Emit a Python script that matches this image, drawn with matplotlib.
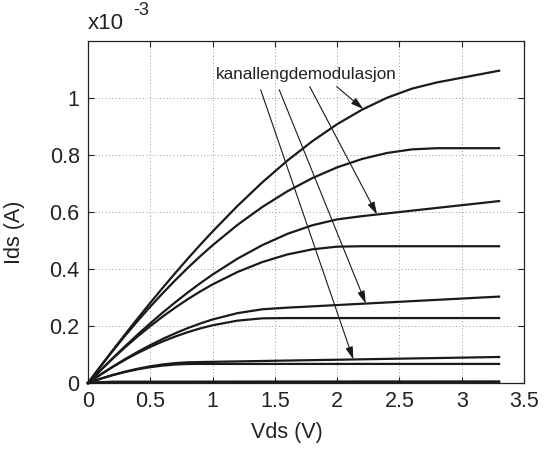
import numpy as np
import matplotlib
matplotlib.use("Agg")
import matplotlib.pyplot as plt

plt.rcParams['font.family'] = ['Liberation Sans', 'DejaVu Sans']

# Vds (V)
vds = [0, 0.1, 0.2, 0.3, 0.4, 0.5, 0.6, 0.7, 0.8, 0.9, 1.0,
       1.2, 1.4, 1.6, 1.8, 2.0, 2.2, 2.4, 2.6, 2.8, 3.0, 3.2, 3.3]

# Ids in units of 1e-3 A, uten (0) / med (1) kanallengdemodulasjon
ids_a0 = [0, 0.0578, 0.1135, 0.1671, 0.2186, 0.2681, 0.3153, 0.3605, 0.4036, 0.4446, 0.4834,
          0.5549, 0.6180, 0.6727, 0.7189, 0.7568, 0.7862, 0.8072, 0.8198, 0.824, 0.824, 0.824, 0.824]
ids_a1 = [0, 0.0584, 0.1158, 0.1721, 0.2273, 0.2815, 0.3342, 0.3857, 0.4359, 0.4846, 0.5317,
          0.6215, 0.7045, 0.7803, 0.8483, 0.9082, 0.9592, 1.0009, 1.0329, 1.0547, 1.0712, 1.0877, 1.0959]
ids_b0 = [0, 0.0442, 0.0863, 0.1262, 0.1640, 0.1997, 0.2333, 0.2646, 0.2939, 0.3210, 0.3460,
          0.3896, 0.4246, 0.4511, 0.4691, 0.4785, 0.48, 0.48, 0.48, 0.48, 0.48, 0.48, 0.48]
ids_b1 = [0, 0.0446, 0.0880, 0.1300, 0.1706, 0.2097, 0.2473, 0.2831, 0.3174, 0.3499, 0.3806,
          0.4364, 0.4840, 0.5233, 0.5535, 0.5742, 0.5856, 0.5952, 0.6048, 0.6144, 0.6240, 0.6336, 0.6384]
ids_c0 = [0, 0.0294, 0.0567, 0.0821, 0.1054, 0.1267, 0.1459, 0.1631, 0.1783, 0.1915, 0.2027,
          0.2189, 0.2270, 0.228, 0.228, 0.228, 0.228, 0.228, 0.228, 0.228, 0.228, 0.228, 0.228]
ids_c1 = [0, 0.0297, 0.0578, 0.0846, 0.1096, 0.1330, 0.1547, 0.1745, 0.1926, 0.2087, 0.2230,
          0.2452, 0.2588, 0.2645, 0.2690, 0.2736, 0.2782, 0.2827, 0.2873, 0.2918, 0.2964, 0.3010, 0.3032]
ids_d0 = [0, 0.0148, 0.0278, 0.0389, 0.0482, 0.0556, 0.0612, 0.0649, 0.0668, 0.067, 0.067,
          0.067, 0.067, 0.067, 0.067, 0.067, 0.067, 0.067, 0.067, 0.067, 0.067, 0.067, 0.067]
ids_d1 = [0, 0.0150, 0.0284, 0.0402, 0.0503, 0.0587, 0.0652, 0.0699, 0.0727, 0.0736, 0.0744,
          0.0758, 0.0773, 0.0788, 0.0803, 0.0817, 0.0832, 0.0847, 0.0862, 0.0876, 0.0891, 0.0906, 0.0913]
ids_e0 = [0, 0.0030, 0.0040, 0.0040, 0.0040, 0.0040, 0.0040, 0.0040, 0.0040, 0.0040, 0.0040,
          0.0040, 0.0040, 0.0040, 0.0040, 0.0040, 0.0040, 0.0040, 0.0040, 0.0040, 0.0040, 0.0040, 0.0040]
ids_e1 = [0, 0.0030, 0.0041, 0.0041, 0.0042, 0.0042, 0.0042, 0.0043, 0.0043, 0.0044, 0.0044,
          0.0045, 0.0046, 0.0046, 0.0047, 0.0048, 0.0049, 0.0050, 0.0050, 0.0051, 0.0052, 0.0053, 0.0053]

curves = [ids_a0, ids_a1, ids_b0, ids_b1, ids_c0, ids_c1, ids_d0, ids_d1, ids_e0, ids_e1]

x_ticks = [0, 0.5, 1, 1.5, 2, 2.5, 3, 3.5]
x_ticklabels = ['0', '0.5', '1', '1.5', '2', '2.5', '3', '3.5']
y_ticks = [0, 0.2, 0.4, 0.6, 0.8, 1.0]
y_ticklabels = ['0', '0.2', '0.4', '0.6', '0.8', '1']

label_text = 'kanallengdemodulasjon'
# pilene: start (Vds, Ids) under teksten, spiss på kurven med kanallengdemodulasjon
arrow_start = [(1.996, 1.040), (1.78, 1.040), (1.535, 1.029), (1.386, 1.029)]
arrow_tip_v = [2.21, 2.32, 2.23, 2.13]
arrow_curve = [ids_a1, ids_b1, ids_c1, ids_d1]

fig = plt.figure(figsize=(5.49, 4.55), dpi=100)
ax = fig.add_axes([0.1603, 0.1582, 0.7942, 0.7516])

for c in curves:
    ax.plot(vds, c, color='#1a1a1a', lw=1.6, clip_on=False, zorder=3,
            solid_joinstyle='round')

ax.set_xlim(0, 3.5)
ax.set_ylim(0, 1.2)
ax.set_xticks(x_ticks)
ax.set_xticklabels(x_ticklabels)
ax.set_yticks(y_ticks)
ax.set_yticklabels(y_ticklabels)
ax.tick_params(direction='in', length=4, width=0.8, labelsize=15.5, colors='#222222',
               top=True, right=True, pad=6)
ax.grid(True, color='#999999', linestyle=(0, (1, 2.5)), lw=0.7)
for sp in ax.spines.values():
    sp.set_color('#222222')
    sp.set_linewidth(0.9)

ax.set_xlabel('Vds (V)', fontsize=15.5, color='#222222')
ax.xaxis.set_label_coords(0.455, -0.115)
ax.set_ylabel('Ids (A)', fontsize=15.5, color='#222222')
ax.yaxis.set_label_coords(-0.145, 0.44)

# MATLAB-style eksponent
ax.text(0.0, 1.022, 'x10', transform=ax.transAxes, fontsize=16, color='#222222',
        ha='left', va='bottom')
ax.text(0.103, 1.065, '-3', transform=ax.transAxes, fontsize=13, color='#222222',
        ha='left', va='bottom')

ax.text(1.03, 1.082, label_text, fontsize=12.3, color='#222222', ha='left', va='center')

for (sv, si), tv, cur in zip(arrow_start, arrow_tip_v, arrow_curve):
    ti = np.interp(tv, vds, cur)
    ax.annotate('', xy=(tv, ti), xytext=(sv, si),
                arrowprops=dict(arrowstyle='-|>,head_length=0.75,head_width=0.22',
                                color='#1a1a1a', lw=0.8, mutation_scale=10,
                                shrinkA=0, shrinkB=0), zorder=4)

fig.savefig('out.png', dpi=100)
